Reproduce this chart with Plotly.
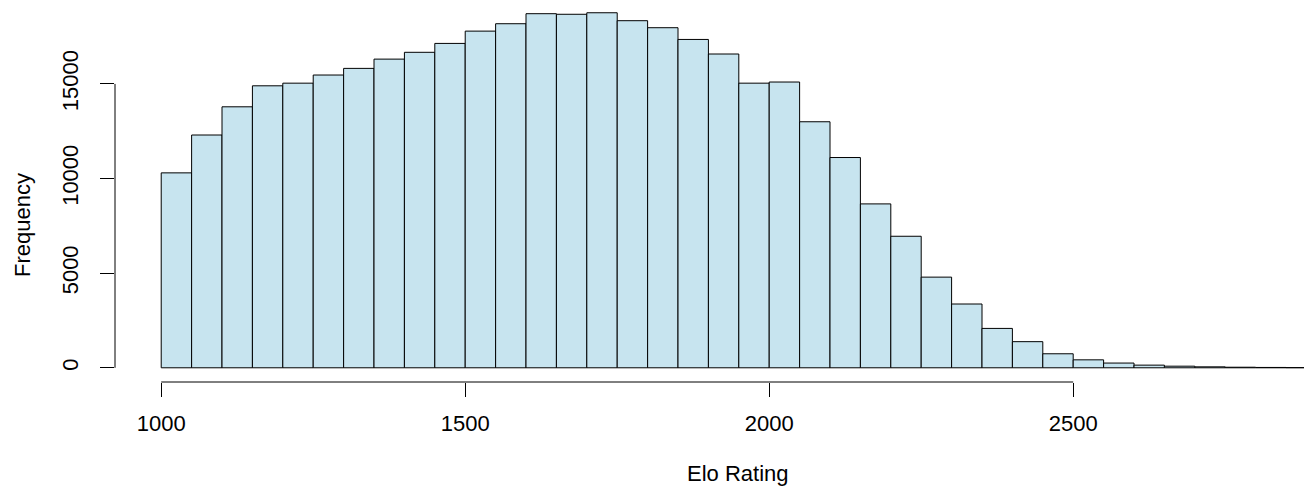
import plotly.graph_objects as go

bin_start = 1000
bin_width = 50
counts = [10300, 12300, 13790, 14900, 15040, 15470, 15820, 16310, 16670, 17140,
          17790, 18180, 18710, 18680, 18760, 18340, 17970, 17350, 16580, 15040,
          15100, 13000, 11110, 8660, 6950, 4790, 3370, 2080, 1380, 740,
          420, 250, 140, 85, 50, 30, 18, 10]
x_ticks = [1000, 1500, 2000, 2500]
y_ticks = [0, 5000, 10000, 15000]
x_title = "Elo Rating"
y_title = "Frequency"

centers = [bin_start + bin_width * (i + 0.5) for i in range(len(counts))]

FONT = "Liberation Sans, Arial, Helvetica, sans-serif"
FS = 22
L, W, B, H = 115, 1189, 105, 487

fig = go.Figure()
fig.add_trace(go.Bar(
    x=centers, y=counts, width=bin_width,
    marker=dict(color="rgb(199,228,239)", line=dict(color="black", width=1)),
    hoverinfo="x+y",
))

# R-style detached axis lines
fig.add_shape(type="line", xref="x", yref="paper", x0=x_ticks[0], x1=x_ticks[-1],
              y0=0, y1=0, line=dict(color="black", width=1))
fig.add_shape(type="line", xref="paper", yref="y", x0=0, x1=0,
              y0=y_ticks[0], y1=y_ticks[-1], line=dict(color="black", width=1))

plot_h = H - B
fig.add_annotation(text=x_title, xref="paper", yref="paper",
                   x=(738 - L) / W, y=-(473 - plot_h) / plot_h,
                   xanchor="center", yanchor="middle", showarrow=False,
                   font=dict(size=FS))
fig.add_annotation(text=y_title, xref="paper", yref="paper",
                   x=(22 - L) / W, y=(plot_h - 225) / plot_h, textangle=-90,
                   xanchor="center", yanchor="middle", showarrow=False,
                   font=dict(size=FS))

fig.update_layout(
    width=1304, height=H,
    margin=dict(l=L, r=0, t=0, b=B),
    plot_bgcolor="white", paper_bgcolor="white",
    showlegend=False,
    font=dict(family=FONT, size=FS, color="black"),
    xaxis=dict(
        range=[924, 2879.6], tickvals=x_ticks, ticktext=[str(v) for v in x_ticks],
        ticks="outside", ticklen=14, tickwidth=1, tickcolor="black",
        showgrid=False, zeroline=False, showline=False,
        tickfont=dict(size=FS), ticklabelstandoff=8,
    ),
    yaxis=dict(
        range=[-751, 19434], tickvals=y_ticks, ticktext=[str(v) for v in y_ticks],
        ticks="outside", ticklen=14, tickwidth=1, tickcolor="black",
        showgrid=False, zeroline=False, showline=False,
        tickangle=-90, tickfont=dict(size=FS), ticklabelstandoff=13,
    ),
)

fig.write_html("out.html")
